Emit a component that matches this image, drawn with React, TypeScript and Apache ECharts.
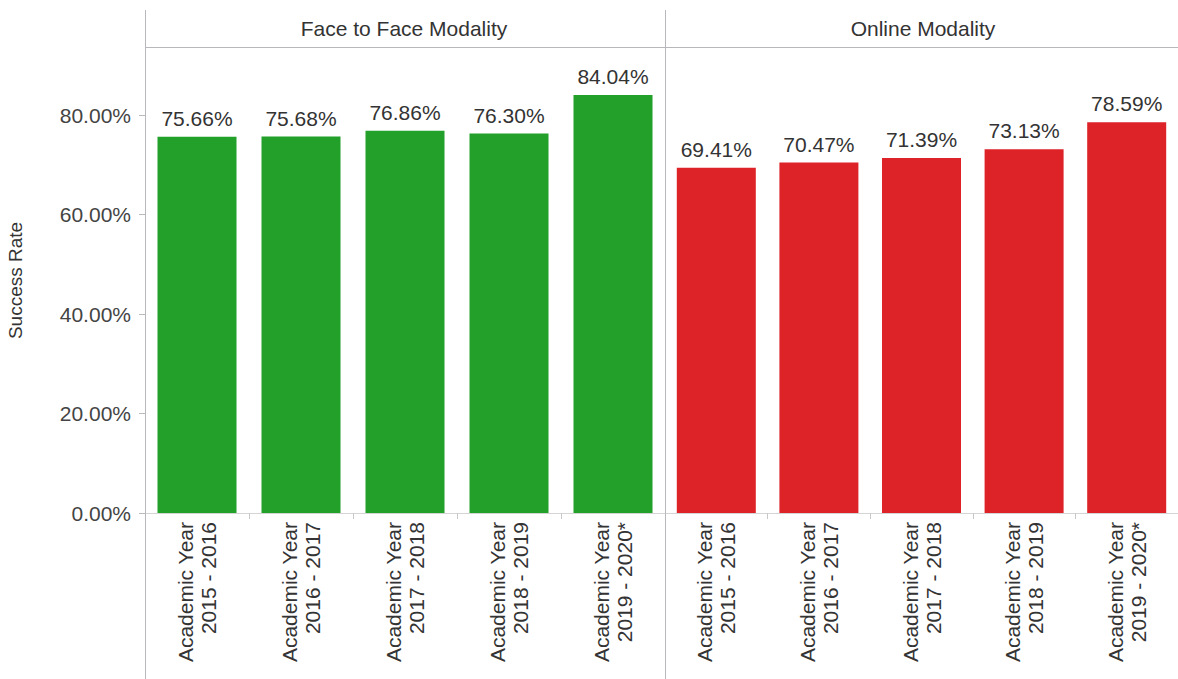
import React, { useEffect, useRef } from "react";
import * as echarts from "echarts";

const categories = [
  "Academic Year\n2015 - 2016",
  "Academic Year\n2016 - 2017",
  "Academic Year\n2017 - 2018",
  "Academic Year\n2018 - 2019",
  "Academic Year\n2019 - 2020*",
];
const faceToFace = [75.66, 75.68, 76.86, 76.3, 84.04];
const online = [69.41, 70.47, 71.39, 73.13, 78.59];
const paneTitles = ["Face to Face Modality", "Online Modality"];
const yTicks = [0, 20, 40, 60, 80];

const FONT = "'Liberation Sans', Arial, Helvetica, sans-serif";
const GREEN = "#22a02a";
const RED = "#dd2228";
const LINE = "#b8b8bc";

export default function App() {
  const ref = useRef<HTMLDivElement>(null);
  useEffect(() => {
    if (!ref.current) return;
    const chart = echarts.init(ref.current, null, { renderer: "svg" });
    const pct = (v: number) => v.toFixed(2) + "%";
    const grids = [
      { left: 145, top: 48, width: 520, height: 465 },
      { left: 665, top: 48, width: 520, height: 465 },
    ];
    const xAxis = grids.map((_, i) => ({
      type: "category" as const,
      gridIndex: i,
      data: categories,
      axisLine: { show: true, lineStyle: { color: "#d4d4d4" } },
      axisTick: { show: true, length: 6, lineStyle: { color: "#c8c8c8" } },
      axisLabel: {
        rotate: 90,
        fontSize: 21,
        lineHeight: 23,
        color: "#333",
        fontFamily: FONT,
        margin: 9,
      },
    }));
    const yAxis = grids.map((_, i) => ({
      type: "value" as const,
      gridIndex: i,
      min: 0,
      max: 93.5,
      show: i === 0,
      name: i === 0 ? "Success Rate" : "",
      nameLocation: "middle" as const,
      nameRotate: 90,
      nameGap: 120,
      nameTextStyle: { fontSize: 19, color: "#333", fontFamily: FONT },
      splitLine: { show: false },
      axisLine: { show: false },
      axisTick: {
        show: true,
        length: 6,
        customValues: yTicks,
        lineStyle: { color: "#bbbbbb" },
      },
      axisLabel: {
        customValues: yTicks,
        formatter: (v: number) => pct(v),
        fontSize: 21,
        color: "#444",
        fontFamily: FONT,
        margin: 14,
      },
    }));
    const mkSeries = (data: number[], idx: number, color: string) => ({
      type: "bar" as const,
      xAxisIndex: idx,
      yAxisIndex: idx,
      data,
      barWidth: 79,
      itemStyle: { color },
      label: {
        show: true,
        position: "top" as const,
        distance: 8,
        formatter: (p: any) => pct(p.value),
        fontSize: 21,
        color: "#333",
        fontFamily: FONT,
      },
    });
    chart.setOption({
      animation: false,
      backgroundColor: "#ffffff",
      grid: grids,
      xAxis,
      yAxis,
      series: [mkSeries(faceToFace, 0, GREEN), mkSeries(online, 1, RED)],
      graphic: [
        { type: "line", shape: { x1: 145.5, y1: 10, x2: 145.5, y2: 679 }, style: { stroke: LINE, lineWidth: 1 }, z: 10 },
        { type: "line", shape: { x1: 665.5, y1: 10, x2: 665.5, y2: 679 }, style: { stroke: LINE, lineWidth: 1 }, z: 10 },
        { type: "line", shape: { x1: 145, y1: 47.5, x2: 1178, y2: 47.5 }, style: { stroke: LINE, lineWidth: 1 }, z: 10 },
        {
          type: "text",
          x: 404,
          y: 28,
          style: { text: paneTitles[0], fontSize: 21, fill: "#333", fontFamily: FONT, align: "center", verticalAlign: "middle" },
        },
        {
          type: "text",
          x: 923,
          y: 28,
          style: { text: paneTitles[1], fontSize: 21, fill: "#333", fontFamily: FONT, align: "center", verticalAlign: "middle" },
        },
      ],
    });
    return () => chart.dispose();
  }, []);
  return (
    <div
      ref={ref}
      style={{ position: "absolute", left: 0, top: 0, width: 1178, height: 679 }}
    />
  );
}
